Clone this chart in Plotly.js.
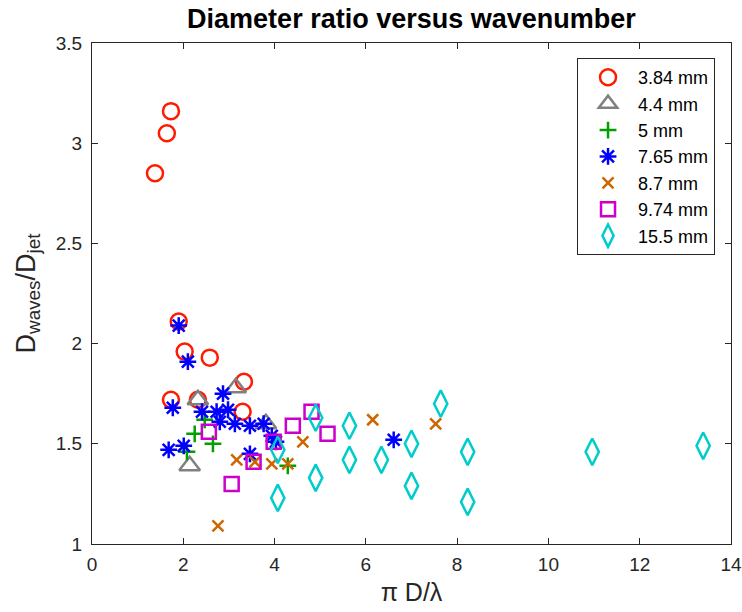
<!DOCTYPE html>
<html>
<head>
<meta charset="utf-8">
<script src="https://cdn.plot.ly/plotly-3.0.1.min.js"></script>
<style>html,body{margin:0;padding:0;background:#fff;}#chart{width:742px;height:612px;}</style>
</head>
<body>
<div id="chart"></div>
<script>
// Series names
const seriesNames = ["3.84 mm", "4.4 mm", "5 mm", "7.65 mm", "8.7 mm", "9.74 mm", "15.5 mm"];

// 3.84 mm
const x384 = [1.38, 1.64, 1.73, 1.90, 2.03, 2.58, 1.73, 2.32, 3.33, 3.30];
const y384 = [2.85, 3.05, 3.16, 2.11, 1.96, 1.93, 1.72, 1.72, 1.81, 1.66];
// 4.4 mm
const x44 = [2.32, 3.15, 2.14, 3.81];
const y44 = [1.72, 1.78, 1.39, 1.60];
// 5 mm
const x5 = [2.25, 2.65, 2.08, 4.29, 2.47];
const y5 = [1.55, 1.50, 1.46, 1.39, 1.62];
// 7.65 mm
const x765 = [1.90, 2.10, 1.77, 2.87, 2.41, 2.73, 2.98, 2.80, 3.13, 3.46, 3.76, 3.94, 4.03, 1.68, 2.01, 3.46, 6.61];
const y765 = [2.09, 1.91, 1.68, 1.75, 1.66, 1.66, 1.67, 1.61, 1.60, 1.59, 1.60, 1.54, 1.51, 1.47, 1.49, 1.45, 1.52];
// 8.7 mm
const x87 = [3.17, 3.57, 3.94, 4.29, 4.62, 2.76, 6.15, 7.53];
const y87 = [1.42, 1.41, 1.40, 1.40, 1.51, 1.09, 1.62, 1.60];
// 9.74 mm
const x974 = [2.56, 3.06, 3.54, 3.98, 4.40, 4.81, 5.16];
const y974 = [1.56, 1.30, 1.41, 1.51, 1.59, 1.66, 1.55];
// 15.5 mm
const x155 = [4.07, 4.07, 4.90, 4.90, 5.64, 5.64, 6.34, 7.00, 7.00, 7.64, 8.23, 8.23, 10.96, 13.39];
const y155 = [1.47, 1.23, 1.63, 1.33, 1.59, 1.42, 1.42, 1.50, 1.29, 1.70, 1.46, 1.21, 1.46, 1.49];

const xTicks = [0, 2, 4, 6, 8, 10, 12, 14];
const yTicks = [1, 1.5, 2, 2.5, 3, 3.5];
const yTickText = ["1", "1.5", "2", "2.5", "3", "3.5"];

const styles = [
  {symbol: "circle-open", color: "#ff1a00", size: 16},
  {symbol: "triangle-up-open", color: "#808080", size: 18},
  {symbol: "cross-thin-open", color: "#00a000", size: 12},
  {symbol: "asterisk-open", color: "#0000ff", size: 14},
  {symbol: "x-thin-open", color: "#cc6600", size: 11},
  {symbol: "square-open", color: "#cc00cc", size: 14},
  {symbol: "diamond-tall-open", color: "#00cccc", size: 19}
];
const xs = [x384, x44, x5, x765, x87, x974, x155];
const ys = [y384, y44, y5, y765, y87, y974, y155];

const traces = xs.map((x, i) => ({
  type: "scatter",
  mode: "markers",
  name: seriesNames[i],
  x: x,
  y: ys[i],
  marker: {
    symbol: styles[i].symbol,
    size: styles[i].size,
    color: styles[i].color,
    line: {color: styles[i].color, width: 2.5}
  }
}));

const FONT = "Liberation Sans, Arial, sans-serif";

const axisCommon = {
  showgrid: false,
  zeroline: false,
  showline: true,
  linecolor: "#262626",
  linewidth: 1,
  mirror: "ticks",
  ticks: "inside",
  ticklen: 6,
  tickwidth: 1,
  tickcolor: "#262626",
  tickfont: {family: FONT, size: 19, color: "#262626"}
};

const layout = {
  width: 742,
  height: 612,
  paper_bgcolor: "#ffffff",
  plot_bgcolor: "#ffffff",
  margin: {l: 92, r: 11, t: 43, b: 68},
  font: {family: FONT, color: "#262626"},
  title: {
    text: "<b>Diameter ratio versus wavenumber</b>",
    font: {family: FONT, size: 27, color: "#000000"},
    x: 0.5545, xanchor: "center",
    y: 0.97, yanchor: "middle"
  },
  xaxis: Object.assign({}, axisCommon, {
    range: [0, 14],
    tickvals: xTicks,
    ticktext: xTicks.map(String),
    ticklabelstandoff: 3,
    ticklabeloverflow: "allow",
    title: {text: "π D/λ", font: {family: FONT, size: 25, color: "#262626"}, standoff: 9}
  }),
  yaxis: Object.assign({}, axisCommon, {
    range: [1, 3.5],
    tickvals: yTicks,
    ticktext: yTickText,
    ticklabelstandoff: 5,
    title: {text: "D<sub>waves</sub>/D<sub>jet</sub>", font: {family: FONT, size: 27, color: "#262626"}, standoff: 12}
  }),
  showlegend: true,
  legend: {
    x: 0.975, xanchor: "right",
    y: 0.97, yanchor: "top",
    bgcolor: "#ffffff",
    bordercolor: "#262626",
    borderwidth: 1,
    font: {family: FONT, size: 18, color: "#000000"},
    itemwidth: 50,
    tracegroupgap: 0
  }
};

Plotly.newPlot("chart", traces, layout, {displayModeBar: false, staticPlot: true});
</script>
</body>
</html>
